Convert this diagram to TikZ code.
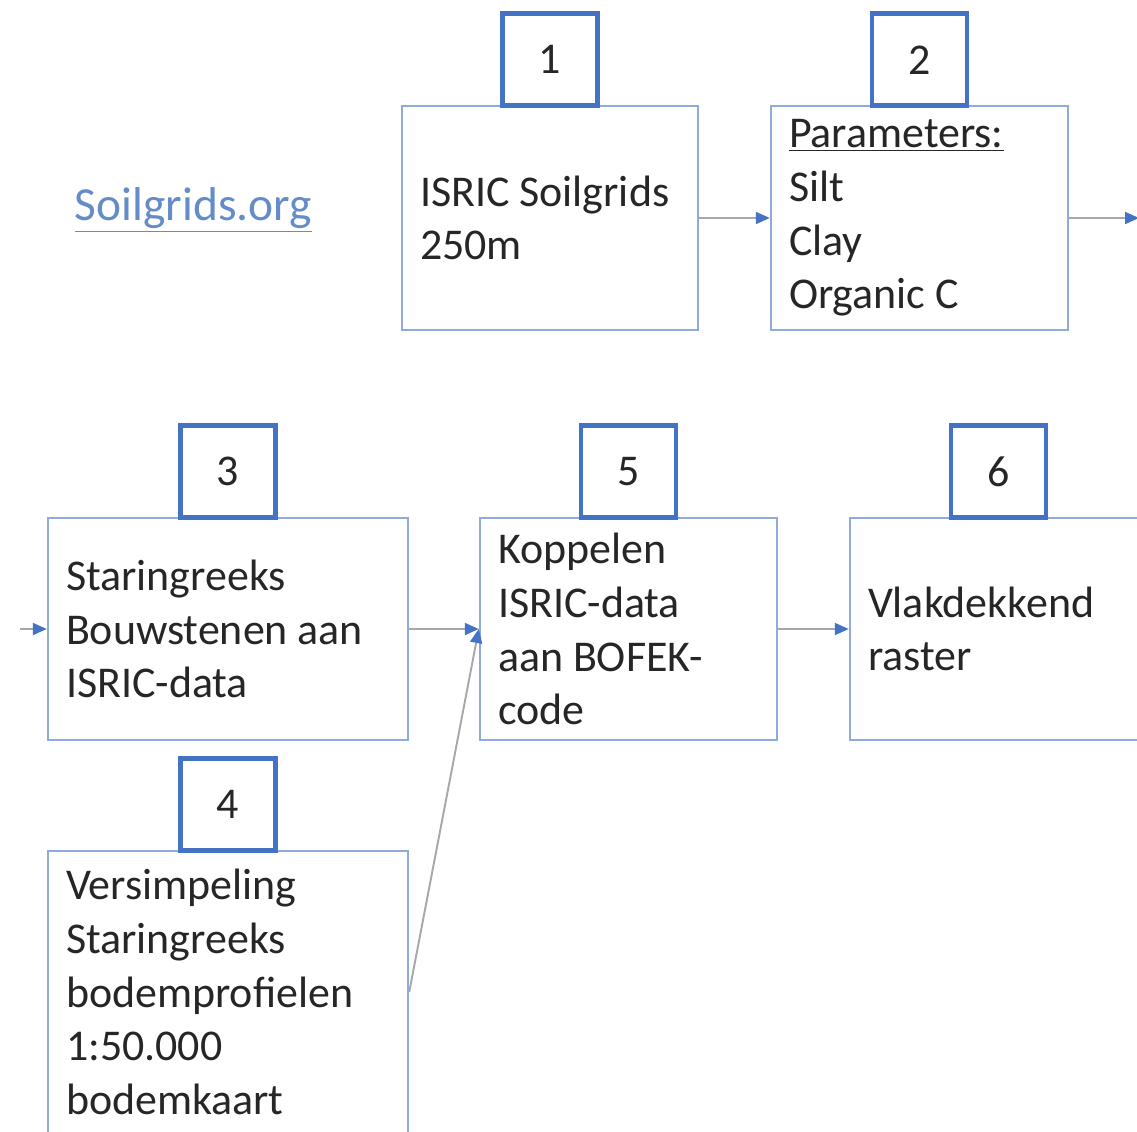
\documentclass[tikz,border=0pt]{standalone}
\usepackage{fontspec}
\setmainfont{Carlito}
\usepackage{tikz}
\usetikzlibrary{arrows.meta,positioning}

\definecolor{numblue}{HTML}{4472C4}
\definecolor{boxblue}{HTML}{8FAADC}
\definecolor{linkblue}{HTML}{648CC8}
\definecolor{flowgray}{HTML}{A8A8A8}
\definecolor{txt}{HTML}{262626}

\tikzset{
  mainbox/.style={draw=boxblue, line width=1.4pt, align=flush left, text=txt,
    inner xsep=0.36cm, minimum height=4.44cm},
  numbox/.style={draw=numblue, line width=2.8pt, text=txt,
    minimum width=1.9cm, minimum height=1.84cm},
  flow/.style={flowgray, line width=1.1pt,
    -{Triangle[color=numblue, length=0.28cm, width=0.24cm]}}
}

\begin{document}
\begin{tikzpicture}[font=\fontsize{25}{30.6}\selectfont]
  \clip (0,0) rectangle (22.74,-22.62);
  \fill[white] (0,0) rectangle (22.74,-22.62);

  % Link
  \node[text=linkblue, font=\fontsize{27}{32}\selectfont] (link) at (3.87,-4.2)
       {\underline{Soilgrids.org}};

  % Boxes, top row
  \node[mainbox, text width=5.2cm, minimum height=4.48cm] (b1) at (11.0,-4.36)
       {ISRIC Soilgrids\\250m};
  \node[mainbox, text width=5.22cm, minimum height=4.48cm] (b2) at (18.39,-4.36)
       {\underline{Parameters:}\\Silt\\Clay\\Organic C};

  % Boxes, second row
  \node[mainbox, text width=6.48cm] (b3) at (4.56,-12.58)
       {Staringreeks\\Bouwstenen aan\\ISRIC-data};
  \node[mainbox, text width=5.22cm] (b5) at (12.57,-12.58)
       {Koppelen\\ISRIC-data\\aan BOFEK-\\code};
  \node[mainbox, text width=5.22cm] (b6) at (19.97,-12.58)
       {Vlakdekkend\\raster};
  \node[mainbox, text width=6.48cm, minimum height=5.64cm] (b4) at (4.56,-19.84)
       {Versimpeling\\Staringreeks\\bodemprofielen\\1:50.000\\bodemkaart};

  % Numbers
  \node[numbox, above=-2pt of b1] (n1) {1};
  \node[numbox, above=-2pt of b2] (n2) {2};
  \node[numbox, above=-2pt of b3] (n3) {3};
  \node[numbox, above=-2pt of b4] (n4) {4};
  \node[numbox, above=-2pt of b5] (n5) {5};
  \node[numbox, above=-2pt of b6] (n6) {6};

  % Arrows
  \coordinate (out2) at (22.78,-4.36);
  \coordinate (in3) at (0.4,-12.58);
  \draw[flow] (b1) -- (b2);
  \draw[flow] (b2) -- (out2);
  \draw[flow] (in3) -- (b3);
  \draw[flow] (b3) -- (b5);
  \draw[flow] (b5) -- (b6);
  \draw[flow] (b4.east) -- (b5.west);
\end{tikzpicture}
\end{document}
